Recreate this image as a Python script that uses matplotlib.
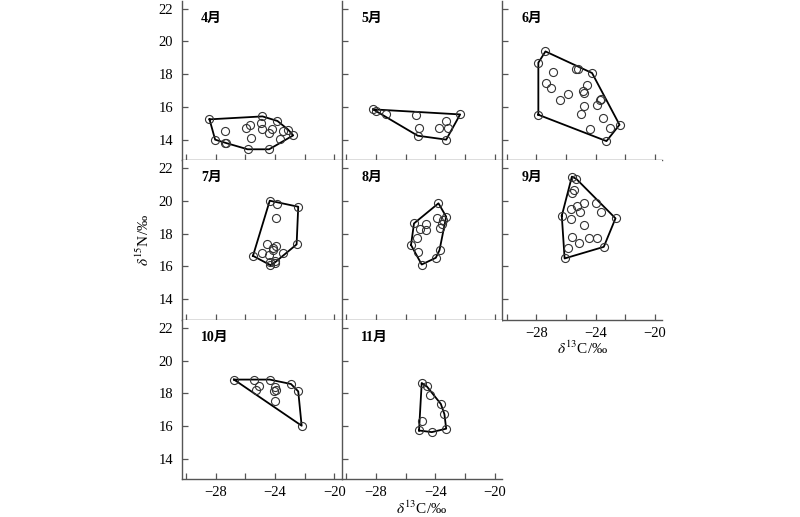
import numpy as np
import matplotlib
matplotlib.use("Agg")
import matplotlib.pyplot as plt

plt.rcParams['font.family'] = ['Liberation Serif', 'Noto Sans CJK SC']
plt.rcParams['mathtext.fontset'] = 'stix'
plt.rcParams['axes.unicode_minus'] = True

# ============================================================
# 数据 (δ13C, δ15N)，按月份
# ============================================================
months = ["4月", "5月", "6月", "7月", "8月", "9月", "10月", "11月"]

c13_apr = [-28.42, -24.85, -23.84, -23.12, -22.78, -24.40, -25.85, -27.29, -28.04,
           -27.40, -25.94, -25.71, -25.64, -24.92, -24.85, -24.42, -24.24, -23.68, -23.45, -27.36]
n15_apr = [15.24, 15.42, 15.14, 14.61, 14.26, 13.41, 13.41, 13.79, 14.00,
           14.53, 14.73, 14.89, 14.12, 15.03, 14.63, 14.40, 14.63, 14.02, 14.53, 13.81]

c13_may = [-28.19, -28.01, -27.34, -25.30, -22.33, -25.10, -23.75, -23.27, -23.18, -25.19, -23.27]
n15_may = [15.85, 15.75, 15.58, 15.48, 15.54, 14.73, 14.73, 15.12, 14.73, 14.24, 14.00]

c13_jun = [-27.86, -27.38, -24.24, -22.39, -23.27, -27.86, -25.30, -25.19, -26.88, -27.36,
           -27.00, -26.39, -25.87, -24.85, -24.81, -24.58, -24.76, -24.99, -23.91, -23.72,
           -23.63, -23.50, -24.40, -23.00]
n15_jun = [18.70, 19.39, 18.07, 14.91, 13.91, 15.52, 18.29, 18.29, 18.11, 17.44,
           17.17, 16.40, 16.81, 16.97, 16.85, 17.32, 16.03, 15.58, 16.13, 16.40,
           16.50, 15.34, 14.63, 14.73]

c13_jul = [-24.36, -23.86, -22.44, -23.95, -22.55, -24.54, -24.13, -23.91, -24.13,
           -24.85, -24.40, -23.50, -25.49, -24.02, -24.31, -24.31, -24.02]
n15_jul = [20.02, 19.80, 19.65, 18.94, 17.35, 17.35, 17.14, 17.27, 17.00,
           16.84, 16.73, 16.84, 16.65, 16.33, 16.29, 16.08, 16.24]

c13_aug = [-23.79, -23.27, -23.91, -23.50, -23.57, -23.68, -25.44, -24.63, -24.63,
           -25.03, -25.21, -25.64, -25.15, -23.72, -23.97, -24.92]
n15_aug = [19.86, 19.04, 18.94, 18.84, 18.57, 18.33, 18.63, 18.57, 18.22,
           18.29, 17.71, 17.31, 16.90, 17.00, 16.53, 16.12]

c13_sep = [-25.60, -25.30, -25.44, -25.60, -25.26, -24.76, -23.97, -25.67, -25.08, -23.63,
           -22.66, -26.28, -25.67, -24.76, -25.60, -25.15, -24.47, -23.91, -23.45, -25.87, -26.09]
n15_sep = [21.49, 21.35, 20.67, 20.47, 19.71, 19.90, 19.90, 19.51, 19.31, 19.31,
           18.94, 19.10, 18.90, 18.53, 17.82, 17.41, 17.71, 17.71, 17.20, 17.10, 16.49]

c13_oct = [-26.77, -25.44, -24.36, -22.93, -22.44, -22.21, -25.10, -25.30, -24.02, -23.91, -24.06, -24.02]
n15_oct = [18.84, 18.84, 18.84, 18.57, 18.12, 16.02, 18.43, 18.22, 18.37, 18.22, 18.12, 17.51]

c13_nov = [-24.92, -24.58, -24.36, -23.63, -23.39, -23.27, -24.24, -25.10, -24.88]
n15_nov = [18.63, 18.43, 17.92, 17.35, 16.73, 15.84, 15.63, 15.73, 16.33]

all_c13 = [c13_apr, c13_may, c13_jun, c13_jul, c13_aug, c13_sep, c13_oct, c13_nov]
all_n15 = [n15_apr, n15_may, n15_jun, n15_jul, n15_aug, n15_sep, n15_oct, n15_nov]

x_ticks = [-30, -28, -26, -24, -22, -20]
x_ticklabels = ["", "−28", "", "−24", "", "−20"]
y_ticks = [14, 16, 18, 20, 22]


def convex_hull(xs, ys):
    """Andrew 单调链算法求凸包"""
    pts = sorted(set(zip(xs, ys)))

    def cross(o, a, b):
        return (a[0] - o[0]) * (b[1] - o[1]) - (a[1] - o[1]) * (b[0] - o[0])

    lower, upper = [], []
    for p in pts:
        while len(lower) >= 2 and cross(lower[-2], lower[-1], p) <= 0:
            lower.pop()
        lower.append(p)
    for p in reversed(pts):
        while len(upper) >= 2 and cross(upper[-2], upper[-1], p) <= 0:
            upper.pop()
        upper.append(p)
    hull = lower[:-1] + upper[:-1]
    hull.append(hull[0])
    return np.array(hull)


# ============================================================
# 画图
# ============================================================
fig = plt.figure(figsize=(8.0, 5.17), dpi=100)
gs = fig.add_gridspec(3, 3, left=0.227, right=0.828, bottom=0.073, top=0.999,
                      wspace=0, hspace=0)

spine_color = "#555555"

for i, month in enumerate(months):
    r, c = divmod(i, 3)
    ax = fig.add_subplot(gs[r, c])
    xs, ys = all_c13[i], all_n15[i]

    hull = convex_hull(xs, ys)
    ax.plot(hull[:, 0], hull[:, 1], color="black", linewidth=1.3, zorder=2)
    ax.plot(xs, ys, linestyle="none", marker="o", markersize=5.8,
            markerfacecolor="none", markeredgecolor="#333333",
            markeredgewidth=0.8, zorder=3)

    ax.set_xlim(-30.3, -19.5)
    ax.set_ylim(12.75, 22.5)
    ax.spines["top"].set_visible(False)
    ax.spines["right"].set_visible(False)
    for s in ("left", "bottom"):
        ax.spines[s].set_color(spine_color)
        ax.spines[s].set_linewidth(1.0)

    ax.set_xticks(x_ticks)
    ax.set_yticks(y_ticks)
    ax.tick_params(direction="in", length=4, width=0.9, color=spine_color,
                   labelsize=10.5, pad=5)
    ax.tick_params(axis="y", pad=6)

    show_x = (r == 2) or (r == 1 and c == 2)
    if show_x:
        ax.set_xticklabels(x_ticklabels)
    else:
        ax.set_xticklabels([])
    if c != 0:
        ax.set_yticklabels([])

    ax.text(0.12, 0.89, month, transform=ax.transAxes, ha="left", va="center",
            fontsize=10, fontweight="semibold")

    if (r == 2 and c == 1) or (r == 1 and c == 2):
        ax.set_xlabel(r"$\delta^{13}$C/‰", fontsize=11, labelpad=0)
    if r == 1 and c == 0:
        ax.set_ylabel(r"$\delta^{15}$N/‰", fontsize=11, labelpad=5)

plt.savefig("out.png", dpi=100)
